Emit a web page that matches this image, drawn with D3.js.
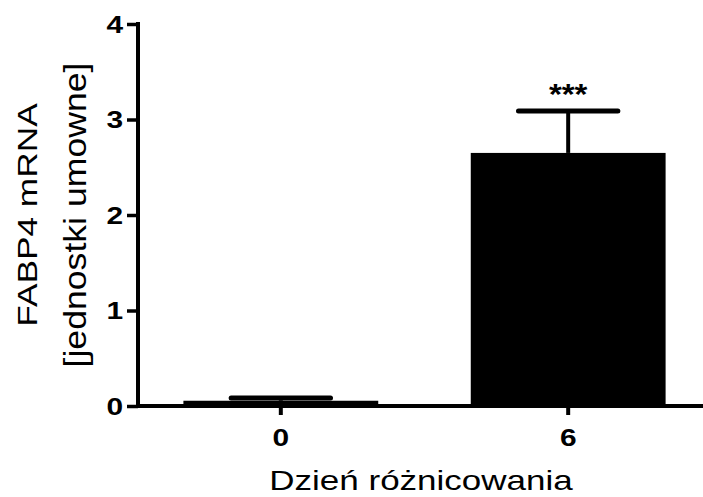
<!DOCTYPE html>
<html><head><meta charset="utf-8">
<script src="https://cdn.jsdelivr.net/npm/d3@7"></script>
<style>body{margin:0;background:#fff}svg{display:block}text{font-family:"Liberation Sans",Arial,sans-serif}</style>
</head><body>
<script>
const categories = ["0", "6"];
const means = [0.055, 2.65];
const sems = [0.03, 0.44];
const significance = ["", "***"];
const yTicks = [0, 1, 2, 3, 4];
const xTitle = "Dzień różnicowania";
const yTitle = ["FABP4 mRNA", "[jednostki umowne]"];

const W = 703, H = 497;
const svg = d3.select("body").append("svg").attr("width", W).attr("height", H);

const x0 = 138, yBase = 406;
const x = d3.scaleBand().domain(categories).range([x0, 711]).paddingInner(0.322).paddingOuter(0.158);
const y = d3.scaleLinear().domain([0, 4]).range([yBase, 24]);

// bars
svg.selectAll("rect.bar").data(categories).enter().append("rect")
  .attr("x", d => x(d)).attr("width", x.bandwidth())
  .attr("y", (d, i) => y(means[i])).attr("height", (d, i) => yBase - y(means[i]))
  .attr("fill", "#000");

// error bars
const capW = x.bandwidth() * 0.51;
categories.forEach((c, i) => {
  const cx = x(c) + x.bandwidth() / 2;
  svg.append("line").attr("x1", cx).attr("x2", cx)
    .attr("y1", y(means[i])).attr("y2", y(means[i] + sems[i]))
    .attr("stroke", "#000").attr("stroke-width", 4);
  svg.append("line").attr("x1", cx - capW / 2).attr("x2", cx + capW / 2)
    .attr("y1", y(means[i] + sems[i])).attr("y2", y(means[i] + sems[i]))
    .attr("stroke", "#000").attr("stroke-width", 5).attr("stroke-linecap", "round");
  if (significance[i]) {
    svg.append("text").attr("transform", `translate(${cx},${y(means[i] + sems[i]) - 7}) scale(1.1,1)`)
      .attr("text-anchor", "middle").attr("font-weight", "bold").attr("font-size", 30)
      .text(significance[i]);
  }
});

// y axis
const yAxis = svg.append("g").attr("transform", `translate(${x0},0)`)
  .call(d3.axisLeft(y).tickValues(yTicks).tickFormat(d3.format("d")).tickSize(11).tickSizeOuter(0));
yAxis.select(".domain").attr("stroke-width", 4).attr("d", `M0,${y(4) - 2}V${yBase + 2}`);
yAxis.selectAll(".tick line").attr("stroke-width", 3.5);
yAxis.selectAll(".tick text").attr("x", 0).attr("dy", "0.36em")
  .attr("transform", "translate(-15,0) scale(1.3,1)")
  .attr("font-size", 23).attr("font-weight", "bold").attr("fill", "#000").attr("font-family", null);

// x axis
const xAxis = svg.append("g").attr("transform", `translate(0,${yBase})`)
  .call(d3.axisBottom(x).tickSize(9).tickSizeOuter(0));
xAxis.select(".domain").remove();
xAxis.selectAll(".tick line").attr("stroke-width", 4);
xAxis.selectAll(".tick text").attr("y", 0).attr("dy", 0)
  .attr("transform", "translate(0,40) scale(1.3,1)")
  .attr("font-size", 23).attr("font-weight", "bold").attr("fill", "#000").attr("font-family", null);
svg.append("line").attr("x1", x0 - 2).attr("x2", W).attr("y1", yBase).attr("y2", yBase)
  .attr("stroke", "#000").attr("stroke-width", 4);

// titles
svg.append("text").attr("transform", `translate(421,490) scale(1.25,1)`)
  .attr("text-anchor", "middle").attr("font-size", 28).text(xTitle);
const yc = (y(0) + y(4)) / 2;
svg.append("text").attr("transform", `translate(37,${yc}) rotate(-90) scale(1.26,1)`)
  .attr("text-anchor", "middle").attr("font-size", 28).text(yTitle[0]);
svg.append("text").attr("transform", `translate(86,${yc}) rotate(-90) scale(1.15,1)`)
  .attr("text-anchor", "middle").attr("font-size", 31).text(yTitle[1]);
</script>
</body></html>
